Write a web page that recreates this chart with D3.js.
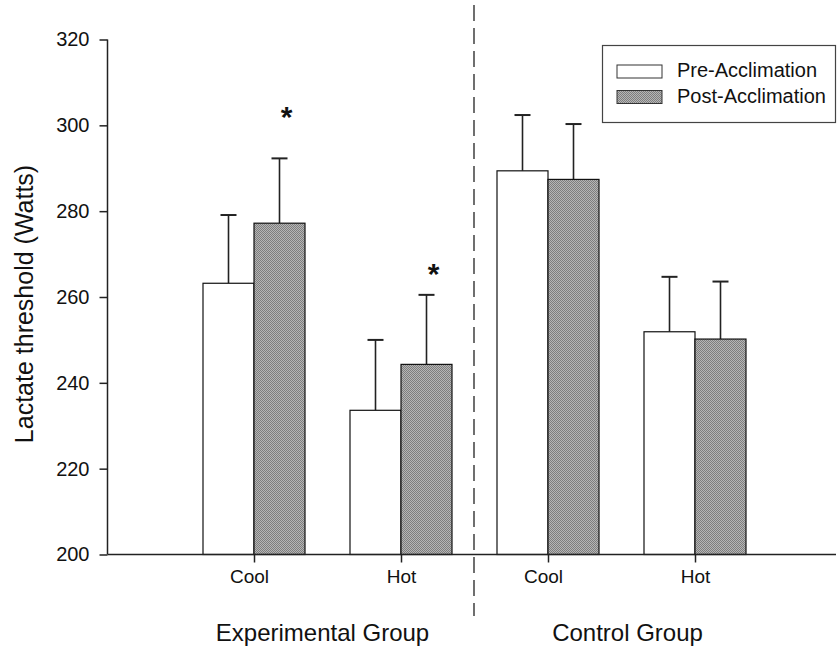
<!DOCTYPE html>
<html>
<head>
<meta charset="utf-8">
<script src="https://cdn.jsdelivr.net/npm/d3@7"></script>
<style>
  html, body { margin: 0; padding: 0; background: #fff; }
  svg { display: block; font-family: Arial, "Liberation Sans", Helvetica, sans-serif; }
</style>
</head>
<body>
<svg id="chart" width="837" height="647"></svg>
<script>
// ---- data ----
const categories = ["Exp-Cool", "Exp-Hot", "Ctl-Cool", "Ctl-Hot"];
const categoryLabels = ["Cool", "Hot", "Cool", "Hot"];
const groupLabels = ["Experimental Group", "Control Group"];
const seriesNames = ["Pre-Acclimation", "Post-Acclimation"];
const preValues = [263.2, 233.6, 289.4, 251.9];
const preErrors = [15.9, 16.4, 13.0, 12.8];
const postValues = [277.2, 244.3, 287.4, 250.2];
const postErrors = [15.1, 16.2, 12.9, 13.4];
const yTicks = [200, 220, 240, 260, 280, 300, 320];
const starCategories = ["Exp-Cool", "Exp-Hot"];
const starLevels = [303.4, 266.8];
const yLabel = "Lactate threshold (Watts)";

// ---- layout ----
const svg = d3.select("#chart");
const W = 837, H = 647;
const axisX = 107.5, yTop = 39.5, yBottom = 554.5;

const y = d3.scaleLinear().domain([200, 320]).range([yBottom, yTop]);
const xc = d3.scalePoint().domain(categories).range([254, 695]);
const xs = d3.scaleBand().domain(["pre", "post"]).range([-51, 51]).padding(0);

// pattern for post bars (halftone-like grey)
const defs = svg.append("defs");
const pat = defs.append("pattern").attr("id", "grey").attr("patternUnits", "userSpaceOnUse")
  .attr("width", 2).attr("height", 2);
pat.append("rect").attr("width", 2).attr("height", 2).attr("fill", "#b6b6b6");
pat.append("rect").attr("x", 0).attr("y", 0).attr("width", 1).attr("height", 1).attr("fill", "#7e7e7e");
pat.append("rect").attr("x", 1).attr("y", 1).attr("width", 1).attr("height", 1).attr("fill", "#7e7e7e");

const rows = categories.map((c, i) => ({
  cat: c,
  series: [
    { key: "pre", v: preValues[i], e: preErrors[i] },
    { key: "post", v: postValues[i], e: postErrors[i] }
  ]
}));

// error bars (drawn before bars so the stem starts at bar top)
const g = svg.append("g");
rows.forEach(r => {
  r.series.forEach(s => {
    const cx = xc(r.cat) + xs(s.key) + xs.bandwidth() / 2;
    g.append("line")
      .attr("x1", cx).attr("x2", cx)
      .attr("y1", y(s.v)).attr("y2", y(s.v + s.e))
      .attr("stroke", "#222").attr("stroke-width", 1.6);
    g.append("line")
      .attr("x1", cx - 8).attr("x2", cx + 8)
      .attr("y1", y(s.v + s.e)).attr("y2", y(s.v + s.e))
      .attr("stroke", "#222").attr("stroke-width", 2);
  });
});

// bars
rows.forEach(r => {
  g.selectAll(null).data(r.series).enter().append("rect")
    .attr("x", d => xc(r.cat) + xs(d.key))
    .attr("y", d => y(d.v))
    .attr("width", xs.bandwidth())
    .attr("height", d => y(200) - y(d.v))
    .attr("fill", d => d.key === "pre" ? "#fff" : "url(#grey)")
    .attr("stroke", "#111")
    .attr("stroke-width", 1.2);
});

// y axis
const yAxis = d3.axisLeft(y).tickValues(yTicks).tickSize(8).tickPadding(10);
const yg = svg.append("g").attr("transform", `translate(${axisX},0)`).call(yAxis);
yg.select(".domain").attr("stroke", "#222").attr("stroke-width", 1.5).attr("d", `M0,${yTop}V${yBottom}`);
yg.selectAll(".tick line").attr("stroke", "#222").attr("stroke-width", 1.5);
yg.selectAll(".tick text").attr("font-size", 20).attr("fill", "#111")
  .attr("font-family", "Arial, 'Liberation Sans', sans-serif");

// x axis
const xAxis = d3.axisBottom(xc).tickSize(8).tickPadding(7)
  .tickFormat((d, i) => categoryLabels[categories.indexOf(d)]);
const xg = svg.append("g").attr("transform", `translate(0,${yBottom})`).call(xAxis);
xg.select(".domain").attr("stroke", "#222").attr("stroke-width", 1.5).attr("d", `M${axisX},0H836`);
xg.selectAll(".tick line").attr("stroke", "#222").attr("stroke-width", 1.5);
xg.selectAll(".tick text").attr("font-size", 19).attr("fill", "#111")
  .attr("font-family", "Arial, 'Liberation Sans', sans-serif")
  .attr("dx", (d, i) => categoryLabels[i] === "Cool" ? -5 : 0);

// dashed divider between groups
const divX = (xc(categories[1]) + xc(categories[2])) / 2 - 0.5;
svg.append("line")
  .attr("x1", divX).attr("x2", divX).attr("y1", 5).attr("y2", 616)
  .attr("stroke", "#222").attr("stroke-width", 1.3)
  .attr("stroke-dasharray", "16,7");

// group labels
const groupCenters = [
  (xc(categories[0]) + xc(categories[1])) / 2,
  (xc(categories[2]) + xc(categories[3])) / 2
];
svg.selectAll(".grp").data(groupLabels).enter().append("text")
  .attr("x", (d, i) => groupCenters[i] + (i === 0 ? -5 : 6))
  .attr("y", 641)
  .attr("text-anchor", "middle")
  .attr("font-size", 24)
  .attr("fill", "#111")
  .text(d => d);

// y label
svg.append("text")
  .attr("transform", `translate(33,304) rotate(-90)`)
  .attr("text-anchor", "middle")
  .attr("font-size", 25)
  .attr("fill", "#111")
  .text(yLabel);

// significance stars
svg.selectAll(".star").data(starCategories).enter().append("text")
  .attr("x", (d) => xc(d) + xs("post") + xs.bandwidth() / 2 + 7)
  .attr("y", (d, i) => y(starLevels[i]) + 16)
  .attr("text-anchor", "middle")
  .attr("font-size", 30)
  .attr("font-weight", "bold")
  .attr("fill", "#111")
  .text("*");

// legend
const lg = svg.append("g");
lg.append("rect").attr("x", 602.5).attr("y", 45.5).attr("width", 233).attr("height", 77)
  .attr("fill", "#fff").attr("stroke", "#444").attr("stroke-width", 1.2);
const keys = ["pre", "post"];
keys.forEach((k, i) => {
  const sy = i === 0 ? 65 : 90.5;
  lg.append("rect").attr("x", 617).attr("y", sy).attr("width", 45).attr("height", 13)
    .attr("fill", k === "pre" ? "#fff" : "url(#grey)")
    .attr("stroke", "#333").attr("stroke-width", 1);
  lg.append("text").attr("x", 677).attr("y", sy + 12)
    .attr("font-size", 20).attr("fill", "#111").text(seriesNames[i]);
});
</script>
</body>
</html>
